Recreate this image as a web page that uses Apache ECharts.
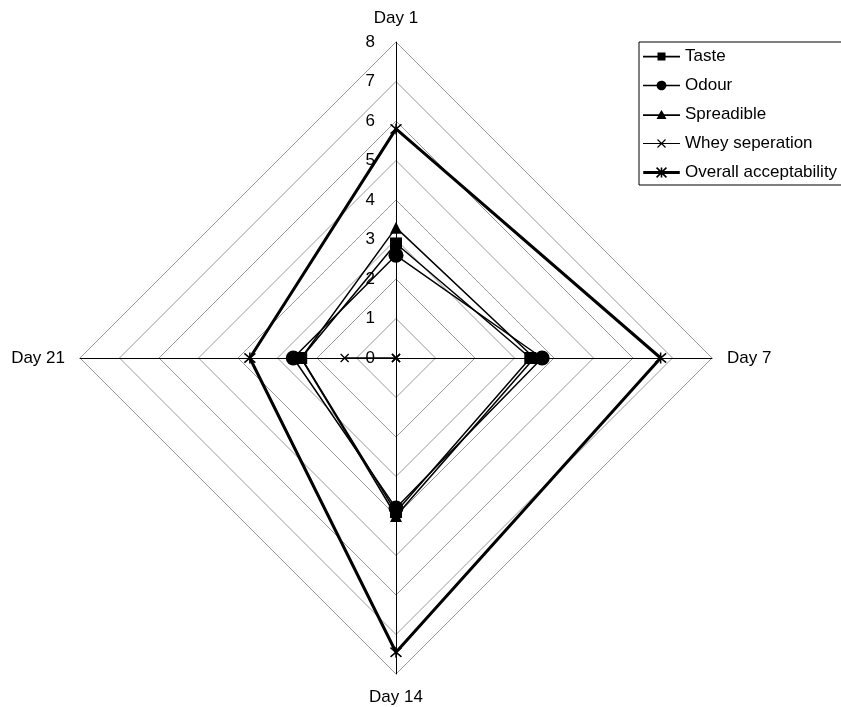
<!DOCTYPE html>
<html>
<head>
<meta charset="utf-8">
<script src="https://cdn.jsdelivr.net/npm/echarts@6/dist/echarts.min.js"></script>
<style>
  html, body { margin: 0; padding: 0; background: #fff; }
  #chart { width: 841px; height: 707px; }
</style>
</head>
<body>
<div id="chart"></div>
<script>
// Sensory scores over storage time
const days = ['Day 1', 'Day 7', 'Day 14', 'Day 21'];
const taste = [2.9, 3.4, 3.9, 2.4];
const odour = [2.6, 3.7, 3.8, 2.6];
const spreadible = [3.3, 3.5, 4.0, 2.4];
const wheySeperation = [0, 0, 0, 1.3];
const overallAcceptability = [5.8, 6.7, 7.45, 3.7];
const tickLabels = ['0', '1', '2', '3', '4', '5', '6', '7', '8'];

// radar axes run counter-clockwise from the top: Day 1, Day 21, Day 14, Day 7
const order = [0, 3, 2, 1];
const arrange = arr => order.map(i => arr[i]);

const FONT = 'Liberation Sans, Arial, sans-serif';
const CX = 396, CY = 358, R = 316;

// legend icons: connecting line with the series marker
const icons = {
  taste: 'path://M0,4.8H14.5V1.5H22.5V4.8H37V6.4H22.5V9.5H14.5V6.4H0Z',
  odour: 'path://M0,4.8H13.6A5,5 0 0 1 23.4,4.8H37V6.4H23.4A5,5 0 0 1 13.6,6.4H0Z',
  spread: 'path://M0,4.8H15.9L18.5,0.5L21.1,4.8H37V6.4H21.8L23.5,9.5H13.5L15.2,6.4H0Z',
  whey: 'path://M0,5.1H37V6.1H0Z M14.1,2.0L14.9,1.2L22.9,9.2L22.1,10.0Z M22.1,1.2L22.9,2.0L14.9,10.0L14.1,9.2Z',
  overall: 'path://M0,4.1H37V7.1H0Z M12.93,1.17L14.07,0.03L24.07,10.03L22.93,11.17Z M22.93,0.03L24.07,1.17L14.07,11.17L12.93,10.03Z M17.7,0.6H19.3V10.6H17.7Z'
};

const crossSymbol = 'path://M0,0L10,10M10,0L0,10';
const starSymbol = 'path://M0,0L10,10M10,0L0,10M5,-1L5,11';

const chart = echarts.init(document.getElementById('chart'), null, { renderer: 'canvas' });

chart.setOption({
  animation: false,
  backgroundColor: '#fff',
  textStyle: { fontFamily: FONT, color: '#000' },
  legend: {
    orient: 'vertical',
    left: 639,
    top: 42,
    padding: [6, 40, 4, 4],
    itemGap: 12,
    itemWidth: 37,
    itemHeight: 11,
    borderColor: '#000',
    borderWidth: 1,
    itemStyle: { borderWidth: 0, color: '#000' },
    textStyle: { fontSize: 17, color: '#000', fontFamily: FONT },
    data: [
      { name: 'Taste', icon: icons.taste },
      { name: 'Odour', icon: icons.odour },
      { name: 'Spreadible', icon: icons.spread },
      { name: 'Whey seperation', icon: icons.whey },
      { name: 'Overall acceptability', icon: icons.overall }
    ]
  },
  radar: {
    center: [CX, CY],
    radius: R,
    shape: 'polygon',
    splitNumber: 8,
    startAngle: 90,
    nameGap: 15,
    axisName: { color: '#000', fontSize: 17, fontFamily: FONT },
    indicator: arrange(days).map(d => ({ name: d, min: 0, max: 8 })),
    axisLine: { lineStyle: { color: '#000', width: 1 } },
    splitLine: { lineStyle: { color: '#9a9a9a', width: 1 } },
    splitArea: { show: false },
    axisTick: { show: false },
    axisLabel: { show: false }
  },
  // value scale printed along the Day 1 axis
  grid: { left: CX, top: CY - R, width: 1, height: R },
  xAxis: { type: 'value', show: false },
  yAxis: {
    type: 'value',
    min: 0,
    max: 8,
    interval: 1,
    axisLine: { show: false },
    axisTick: { show: false },
    splitLine: { show: false },
    axisLabel: {
      margin: 21,
      fontSize: 17,
      color: '#000',
      fontFamily: FONT,
      formatter: v => tickLabels[v]
    }
  },
  series: [{
    type: 'radar',
    data: [
      {
        name: 'Whey seperation',
        value: arrange(wheySeperation),
        symbol: crossSymbol,
        symbolSize: 8,
        lineStyle: { color: '#000', width: 1 },
        itemStyle: { color: '#000', borderColor: '#000', borderWidth: 1.3 }
      },
      {
        name: 'Taste',
        value: arrange(taste),
        symbol: 'rect',
        symbolSize: 12,
        lineStyle: { color: '#000', width: 1.5 },
        itemStyle: { color: '#000' }
      },
      {
        name: 'Spreadible',
        value: arrange(spreadible),
        symbol: 'triangle',
        symbolSize: 12,
        lineStyle: { color: '#000', width: 1.5 },
        itemStyle: { color: '#000' }
      },
      {
        name: 'Odour',
        value: arrange(odour),
        symbol: 'circle',
        symbolSize: 15,
        lineStyle: { color: '#000', width: 1.5 },
        itemStyle: { color: '#000' }
      },
      {
        name: 'Overall acceptability',
        value: arrange(overallAcceptability),
        symbol: starSymbol,
        symbolSize: 11,
        lineStyle: { color: '#000', width: 3 },
        itemStyle: { color: '#000', borderColor: '#000', borderWidth: 1.5 }
      }
    ]
  }]
});
</script>
</body>
</html>
